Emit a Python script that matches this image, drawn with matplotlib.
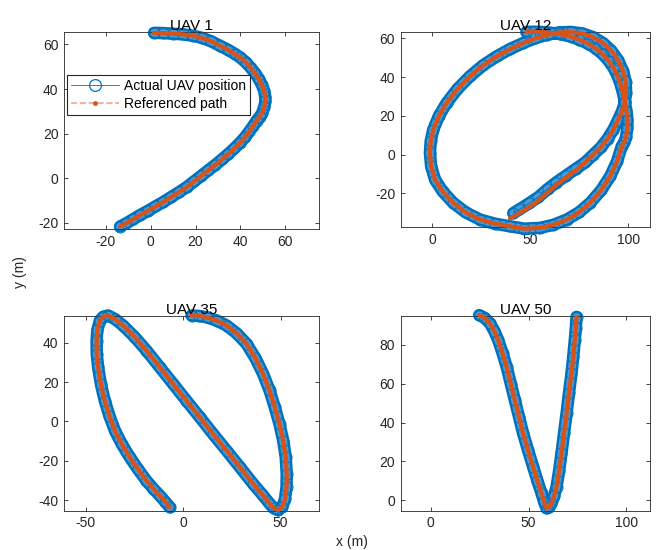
import matplotlib
matplotlib.use("Agg")
import matplotlib.pyplot as plt

plt.rcParams['font.family'] = ['Liberation Sans', 'DejaVu Sans']
plt.rcParams['axes.unicode_minus'] = False

# ---------------- data ----------------
titles = ["UAV 1", "UAV 12", "UAV 35", "UAV 50"]

uav1_x = [1.5, 5.5, 10, 14.5, 19, 23, 27, 30.9, 34.5, 37.5, 39.9, 42.4, 44.6, 46.5, 48.2,
          49.6, 50.6, 51.1, 51.2, 50.6, 49.7, 48.6, 47.3, 45.6, 44, 42.1, 39.8, 37.3,
          34.7, 31.8, 28.8, 25.7, 22.5, 19.3, 16.1, 12.6, 9.1, 5.6, 2.1, -1.3, -4.8,
          -8, -11, -13.7]
uav1_y = [65.2, 65.1, 64.8, 64.5, 63.9, 62.9, 61.4, 59.4, 57.6, 55.8, 54.2, 52.0, 49.6,
          47.2, 44.6, 41.9, 39.3, 36.5, 34.5, 31.8, 29.2, 27.5, 25.9, 23.3, 21, 18.5,
          15.9, 13.4, 11.0, 8.5, 6.0, 3.6, 1.1, -1.4, -3.9, -6.2, -8.4, -10.6, -12.6,
          -14.6, -16.5, -18.4, -20.2, -21.6]

uav12_x = [48, 51.5, 55, 60, 65, 70, 75, 79.5, 83.5, 87, 90, 92.5, 94.5, 96, 97.2, 98.2,
           99, 99.5, 99.4, 98.8, 97.9, 96.6, 94.2, 90.7, 86, 80.5, 74.8, 68.6, 61.8, 54.9,
           47, 39.6, 31.8, 24.3, 17, 10.7, 5.3, 1.4, -0.6, -1.2, -0.8, 0.5, 3.4, 7.3, 12.8,
           19.2, 25.8, 32.9, 39.7, 46.4, 52.5, 58.4, 64.5, 70.5, 76.5, 82, 87, 91.3, 94.8,
           97.3, 98.6, 98.8, 98.2, 96.8, 94.7, 92.3, 89.4, 86, 82.1, 78, 73.4, 68.6, 63.6,
           59.6, 54.9, 50, 44.5, 39.6]
uav12_y = [63.3, 63.4, 63.3, 62.9, 62.2, 61, 59.3, 57.2, 54.7, 51.7, 48.3, 44.6, 40.5,
           36.3, 31.8, 27, 22.5, 18, 13.5, 9, 6.5, 4.3, -3.5, -11.2, -18.5, -24.9, -29.8,
           -33.5, -36.2, -37.8, -38.2, -37, -35.6, -33.5, -29.8, -24.9, -19, -12.9, -6,
           0.9, 7, 12.9, 20, 26.6, 33.8, 40.4, 46, 50.7, 54.5, 57.6, 60, 61.8, 63, 63.3,
           62.5, 60.6, 57.6, 53.6, 48.6, 43, 37.5, 32, 27, 22.5, 17.8, 12.9, 8.2, 3.8, 0,
           -4, -7.9, -11.6, -15.4, -18.8, -23.2, -26.7, -30.2, -33]
uav12_act_x = uav12_x[:-8] + [73.1, 68.1, 63.0, 58.9, 54.1, 49.2, 44.4, 41.3]
uav12_act_y = uav12_y[:-8] + [-7.4, -10.9, -14.5, -17.7, -21.9, -25.2, -28.3, -30.2]

uav35_x = [4.3, 8, 12, 17.3, 22.3, 27.6, 32.5, 37, 41, 44.3, 47, 49.4, 51.3, 52.6, 53.1,
           53, 52.2, 50.8, 48.7, 46.5, 44.5, 40.4, 35.9, 29.2, 22.3, 15.4, 8.6, 1.7, -5.1,
           -12, -18.8, -25, -30.8, -35, -38.5, -41, -42.7, -44, -44.4, -44.3, -43.6,
           -42.2, -40.2, -37.8, -35, -31.4, -27.3, -23.1, -18.8, -15.3, -11.9, -9.2, -6.8]
uav35_y = [53.8, 53.6, 52.9, 51.2, 48.7, 44.6, 39.4, 32.2, 24.1, 15.7, 7.1, -1.4, -9.8,
           -18.3, -26.8, -33.5, -39.5, -43.4, -45.1, -44.2, -42, -37, -31.8, -23.4, -14.9,
           -6.5, 2, 10.5, 19, 27.5, 36, 43, 48.7, 52, 53.8, 53.2, 51.2, 46.5, 41, 34.2,
           27.5, 19, 10.5, 2.8, -4.7, -11.7, -18.3, -24.4, -30.2, -34.2, -37.8, -40.9,
           -43.7]

uav50_x = [24.8, 27.5, 30.3, 32.5, 34.5, 36.7, 38.8, 40.9, 43, 45.1, 47.2, 49.7, 52.3,
           54.5, 56.6, 58, 59.2, 60.5, 61.7, 63, 64.3, 65.6, 66.8, 68.1, 69.4, 70.6, 71.9,
           72.8, 73.6, 74.1, 74.5]
uav50_y = [95.4, 94, 91.1, 87.2, 82.5, 75.8, 68.7, 60.1, 51.5, 43, 34.4, 25.8, 17.2, 10,
           3.5, -1.2, -4.3, -3.7, -1.7, 2, 6.9, 15.2, 24.1, 34.4, 44.7, 55, 65.3, 74,
           82.5, 88.5, 94.5]

ref_paths = [(uav1_x, uav1_y), (uav12_x, uav12_y), (uav35_x, uav35_y), (uav50_x, uav50_y)]
act_paths = [(uav1_x, uav1_y), (uav12_act_x, uav12_act_y), (uav35_x, uav35_y), (uav50_x, uav50_y)]

xlims = [(-38.7, 75.1), (-16.1, 111), (-61.1, 69.8), (-15.3, 112)]
ylims = [(-22.7, 65.8), (-37.5, 63.4), (-45.4, 53.7), (-5.5, 95.1)]
xticks = [[-20, 0, 20, 40, 60], [0, 50, 100], [-50, 0, 50], [0, 50, 100]]
yticks = [[-20, 0, 20, 40, 60], [-20, 0, 20, 40, 60], [-40, -20, 0, 20, 40], [0, 20, 40, 60, 80]]

# ---------------- figure ----------------
BLUE = '#0072BD'
ORANGE = '#D95319'
AXC = '#262626'

fig = plt.figure(figsize=(6.56, 5.5), dpi=100)
W, H = 656, 550
boxes = [(64, 31.5, 319, 229), (400.7, 31.7, 650, 227.3),
         (64, 315.7, 319.3, 510.7), (400.7, 315.7, 650, 510.7)]

for i in range(4):
    l, t, r, b = boxes[i]
    ax = fig.add_axes([l / W, 1 - b / H, (r - l) / W, (b - t) / H])
    ax_x, ax_y = act_paths[i]
    rx, ry = ref_paths[i]
    # blue band of overlapping circles
    ax.plot(ax_x, ax_y, '-', color=BLUE, lw=9, solid_capstyle='round',
            solid_joinstyle='round', clip_on=False, zorder=2)
    ax.plot(ax_x, ax_y, '-', color='#4a9ad6', lw=5.5, solid_capstyle='round',
            solid_joinstyle='round', clip_on=False, zorder=2)
    ax.plot(ax_x, ax_y, '-o', color=BLUE, lw=0.6, ms=8, mfc='none', mew=0.7,
            clip_on=False, zorder=3)
    # reference path
    ax.plot(rx, ry, '-', color=ORANGE, lw=3.0, solid_capstyle='round',
            solid_joinstyle='round', clip_on=False, zorder=4)
    ax.set_xlim(*xlims[i])
    ax.set_ylim(*ylims[i])
    ax.set_xticks(xticks[i])
    ax.set_yticks(yticks[i])
    ax.tick_params(direction='in', length=3, width=0.6, colors=AXC, labelsize=10,
                   top=True, right=True, pad=4)
    for s in ax.spines.values():
        s.set_color(AXC)
        s.set_linewidth(0.6)
    ax.set_title(titles[i], fontsize=11, color='black', pad=1)
    if i == 0:
        h2l, = ax.plot([], [], '--', color=(0.851, 0.325, 0.098, 0.5), lw=1.2, marker='.',
                       ms=5, mfc=ORANGE, mec=ORANGE)
        h1l, = ax.plot([], [], '-o', color=BLUE, lw=0.6, ms=8.5, mfc='none', mew=0.9)
        leg = ax.legend(handles=[h1l, h2l], labels=['Actual UAV position', 'Referenced path'],
                        loc='upper left', bbox_to_anchor=(0.013, 0.78),
                        borderaxespad=0, fontsize=10, fancybox=False, framealpha=1,
                        edgecolor=AXC, handlelength=3.4, handletextpad=0.4,
                        borderpad=0.3, labelspacing=0.3)
        leg.get_frame().set_linewidth(0.8)
        leg.set_zorder(10)

fig.text(352 / W, 1 - 542 / H, 'x (m)', ha='center', va='center', fontsize=10, color=AXC)
fig.text(20 / W, 1 - 272 / H, 'y (m)', ha='center', va='center', fontsize=10, color=AXC,
         rotation=90)

fig.savefig('out.png', dpi=100)
